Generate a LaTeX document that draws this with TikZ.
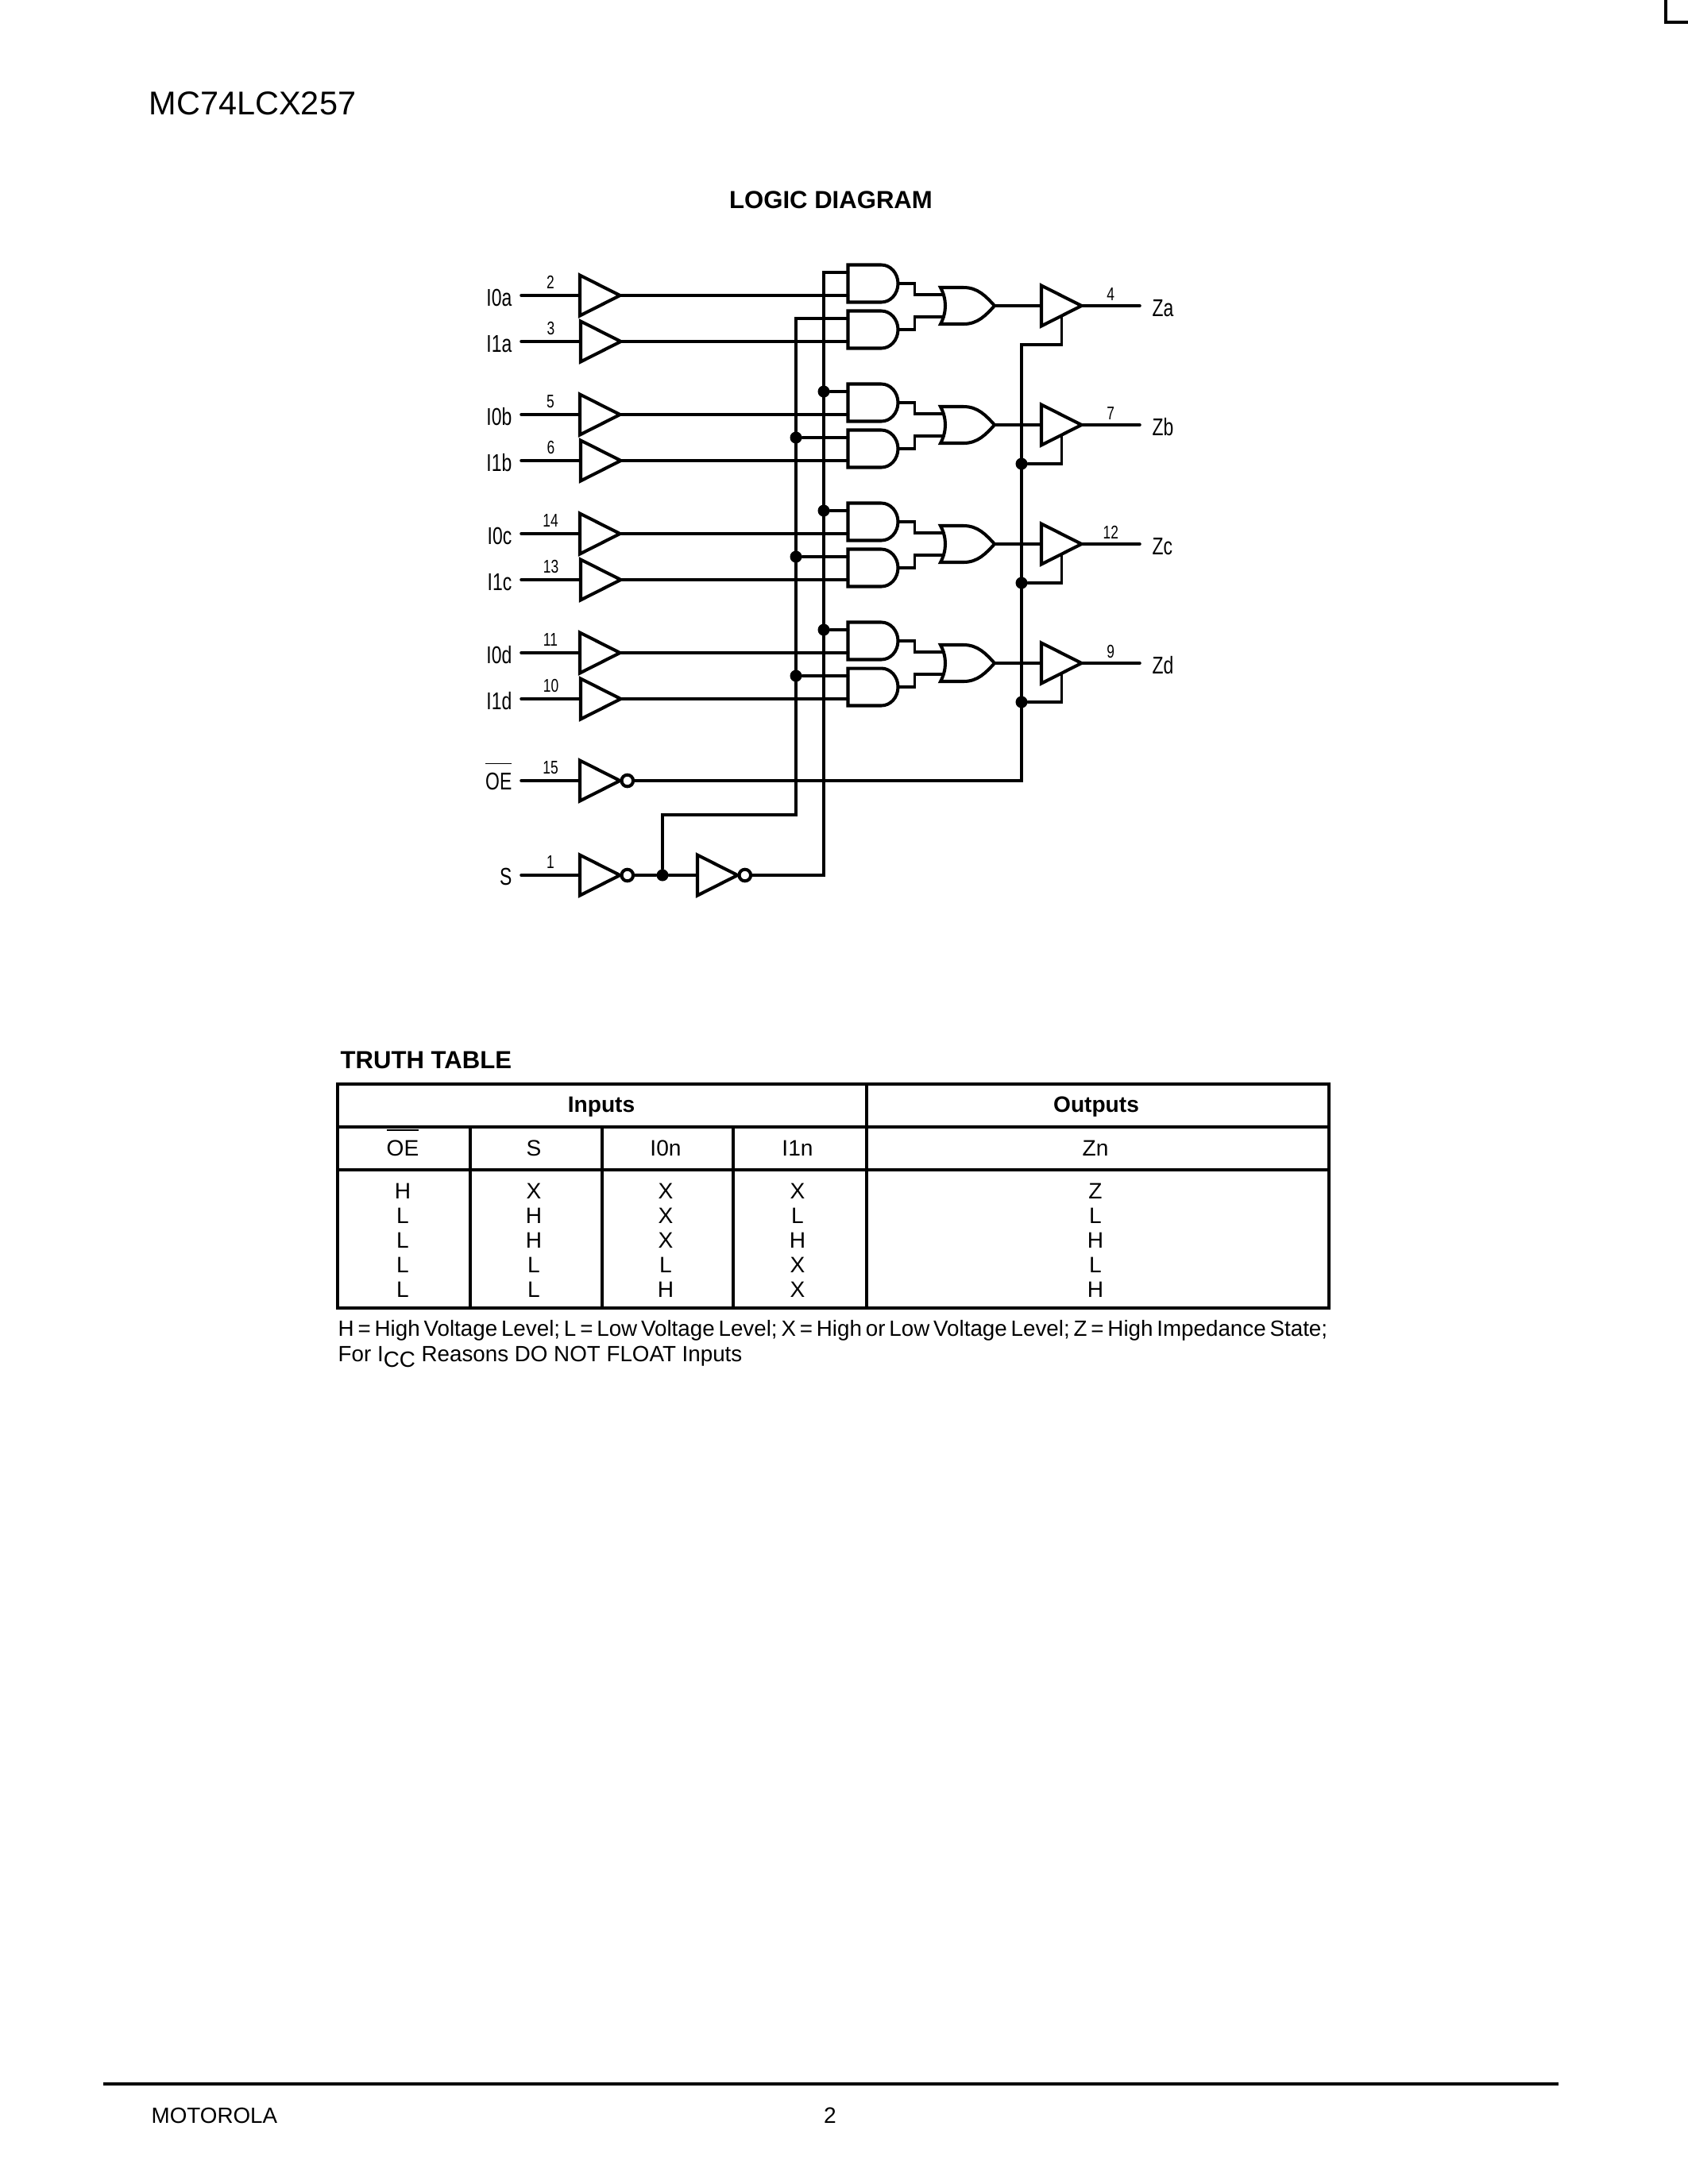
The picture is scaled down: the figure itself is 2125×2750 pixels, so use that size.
\documentclass[tikz,border=0pt]{standalone}
\usepackage{fontspec}
\setmainfont{Liberation Sans}
\newfontfamily\narrowfont[FakeStretch=0.75]{Liberation Sans}
\usetikzlibrary{positioning, shapes.geometric}
\newcommand*{\barred}[3]{\vbox{\hrule height #1 \kern #2 \hbox{#3}}}
\newcommand*{\andoutline}[1]{\draw [outline] (#1.south west) -- (#1.north west) -- ++(4.2mm,0) arc [start angle=90, end angle=-90, x radius=2.1mm, y radius=2.35mm] -- cycle;}
\newcommand*{\oroutline}[1]{\draw [outline] (#1.north west) -- ++(2.9mm,0) .. controls +(1.8mm,0) and +(-1.1mm,1.2mm) .. (#1.east) .. controls +(-1.1mm,-1.2mm) and +(1.8mm,0) .. ++(-3.9mm,-2.3mm) -- (#1.south west) .. controls +(0.8mm,1.5mm) and +(0.8mm,-1.5mm) .. (#1.north west) -- cycle;}
\tikzstyle{wire} = [line width=1pt, line cap=round]
\tikzstyle{outline} = [line width=1.15pt]
\tikzstyle{gate} = [draw, outline, inner sep=0pt, outer sep=0pt]
\tikzstyle{driver} = [gate, isosceles triangle, isosceles triangle stretches, minimum width=5.1mm, minimum height=5.05mm, anchor=lower side]
\tikzstyle{andgate} = [inner sep=0pt, outer sep=0pt, minimum width=6.3mm, minimum height=4.7mm]
\tikzstyle{orgate} = [inner sep=0pt, outer sep=0pt, minimum width=6.8mm, minimum height=4.6mm]
\tikzstyle{bubble} = [gate, circle, minimum size=1.46mm]
\tikzstyle{dot} = [circle, fill, inner sep=0pt, minimum size=1.5mm]
\tikzstyle{signal} = [inner sep=0pt, font=\fontsize{8.7}{10}\narrowfont]
\tikzstyle{number} = [inner sep=0pt, anchor=base, font=\fontsize{6.6}{8}\narrowfont]
\tikzstyle{cell} = [inner sep=0pt, anchor=base, font=\fontsize{8}{10}\selectfont]
\tikzstyle{heading} = [inner sep=0pt, font=\fontsize{8.85}{10}\bfseries]
\tikzstyle{note} = [inner sep=0pt, anchor=base west, font=\fontsize{7.9}{9}\selectfont]

\begin{document}
\begin{tikzpicture}[x=0.1mm, y=-0.1mm]
    \useasboundingbox (0,0) rectangle (2125,2750);

    \node (title) [inner sep=0pt, anchor=base west, font=\fontsize{11.8}{14}\selectfont] at (187,144) {MC74LCX257};
    \node (logic) [heading, anchor=base] at (1046,262) {LOGIC DIAGRAM};
    \draw [outline] (2097,0) -- (2097,28) -- (2125,28);

    % Bit slices.
    \foreach \g/\y/\p/\q/\r in {a/372/2/3/4, b/522/5/6/7, c/672/14/13/12, d/822/11/10/9} {%
        \node (buffer \g 0) [driver] at (730,\y) {};
        \node (buffer \g 1) [driver] at (731,\y+58) {};
        \node (and \g 0) [andgate] at (1099,\y-15) {};
        \node (and \g 1) [andgate] at (1099,\y+43) {};
        \node (or \g) [orgate] at (1218,\y+13) {};
        \node (pin \g 0) [coordinate] at (1188,\y-1) {};
        \node (pin \g 1) [coordinate] at (1188,\y+27) {};
        \node (tri \g) [driver] at (1311,\y+13) {};
        \node (start \g 0) [coordinate, left=7.4mm of buffer \g 0.lower side] {};
        \node (start \g 1) [coordinate, left=7.5mm of buffer \g 1.lower side] {};
        \node (end \g) [coordinate] at (1435,\y+13) {};
        \node (name \g 0) [signal, anchor=base east] at (645,\y+13) {I0\g};
        \node (name \g 1) [signal, anchor=base east] at (645,\y+71) {I1\g};
        \node (name \g) [signal, anchor=base west] at (1450,\y+26) {Z\g};
        \andoutline{and \g 0}
        \andoutline{and \g 1}
        \oroutline{or \g}

        \draw [wire] (start \g 0) -- node [number, yshift=0.9mm] {\p} (buffer \g 0.lower side);
        \draw [wire] (start \g 1) -- node [number, yshift=0.9mm] {\q} (buffer \g 1.lower side);
        \draw [wire] (buffer \g 0.apex) -- (buffer \g 0.apex -| and \g 0.west);
        \draw [wire] (buffer \g 1.apex) -- (buffer \g 1.apex -| and \g 1.west);
        \draw [wire] (and \g 0.east) -- ++(21,0) |- (pin \g 0);
        \draw [wire] (and \g 1.east) -- ++(21,0) |- (pin \g 1);
        \draw [wire] (or \g.east) -- (tri \g.lower side);
        \draw [wire] (tri \g.apex) -- node [number, yshift=0.7mm] {\r} (end \g);
    }

    % Control inputs.
    \node (buffer oe) [driver] at (730,983) {};
    \node (bubble oe) [bubble, right=0.2mm of buffer oe.apex] {};
    \node (start oe) [coordinate, left=7.4mm of buffer oe.lower side] {};
    \node (name oe) [signal, anchor=base east] at (645,994) {\barred{0.3pt}{2.9pt}{OE}};
    \node (buffer s) [driver] at (730,1102) {};
    \node (bubble s) [bubble, right=0.2mm of buffer s.apex] {};
    \node (start s) [coordinate, left=7.4mm of buffer s.lower side] {};
    \node (name s) [signal, anchor=base east] at (645,1114) {S};
    \node (dot s) [dot] at (834,1102) {};
    \node (buffer n) [driver] at (878,1102) {};
    \node (bubble n) [bubble, right=0.2mm of buffer n.apex] {};
    \node (bus 0) [coordinate] at (1002,401) {};
    \node (bus 0 low) [coordinate] at (1002,1026) {};
    \node (bus 1) [coordinate] at (1037,343) {};
    \node (enable) [coordinate] at (1286,434) {};

    % Arrows.
    \draw [wire] (start oe) -- node [number, yshift=0.9mm] {15} (buffer oe.lower side);
    \draw [wire] (start s) -- node [number, yshift=0.9mm] {1} (buffer s.lower side);
    \draw [wire] (bubble s) -- (dot s);
    \draw [wire] (dot s) -- (buffer n.lower side);
    \draw [wire] (dot s) |- (bus 0 low) -- (bus 0) -- (bus 0 -| and a1.west);
    \draw [wire] (bubble n) -| (bus 1) -- (bus 1 -| and a0.west);
    \draw [wire] (bubble oe) -| (enable) -| (tri a.right side);

    \foreach \g/\y in {b/522, c/672, d/822} {%
        \node (dot \g 0) [dot] at (1037,\y-29) {};
        \node (dot \g 1) [dot] at (1002,\y+29) {};
        \node (dot \g) [dot] at (1286,\y+62) {};
        \draw [wire] (dot \g 0) -- (dot \g 0 -| and \g 0.west);
        \draw [wire] (dot \g 1) -- (dot \g 1 -| and \g 1.west);
        \draw [wire] (dot \g) -| (tri \g.right side);
    }

    % Truth table.
    \node (table name) [heading, anchor=base west] at (428,1345) {TRUTH TABLE};
    \draw [line width=1.15pt] (425,1365) rectangle (1673,1647);
    \draw [line width=1.15pt] (425,1419) -- (1673,1419);
    \draw [line width=1.15pt] (425,1473) -- (1673,1473);
    \draw [line width=1pt] (1091,1365) -- (1091,1647);
    \foreach \x in {592, 758, 923} {%
        \draw [line width=1pt] (\x,1419) -- (\x,1647);
    }
    \node (inputs) [cell, font=\fontsize{8}{10}\bfseries] at (757,1400) {Inputs};
    \node (outputs) [cell, font=\fontsize{8}{10}\bfseries] at (1380,1400) {Outputs};
    \node (head oe) [cell] at (507,1455) {\barred{0.85pt}{3.1pt}{OE}};
    \foreach \x/\h in {672/S, 838/I0n, 1004/I1n, 1379/Zn} {%
        \node (head \h) [cell] at (\x,1455) {\h};
    }
    \foreach \r/\a/\b/\c/\d/\e in {1509/H/X/X/X/Z, 1540/L/H/X/L/L, 1571/L/H/X/H/H, 1602/L/L/L/X/L, 1633/L/L/H/X/H} {%
        \node (oe \r) [cell] at (507,\r) {\a};
        \node (s \r) [cell] at (672,\r) {\b};
        \node (i0 \r) [cell] at (838,\r) {\c};
        \node (i1 \r) [cell] at (1004,\r) {\d};
        \node (zn \r) [cell] at (1379,\r) {\e};
    }
    \node (note 1) [note] at (425,1682) {\spaceskip=1.38pt H = High Voltage Level; L = Low Voltage Level; X = High or Low Voltage Level; Z = High Impedance State;};
    \node (note 2) [note] at (425,1714) {For I\raisebox{-2pt}{CC} Reasons DO NOT FLOAT Inputs};

    % Footer.
    \draw [line width=1.4pt] (130,2624) -- (1962,2624);
    \node (maker) [cell, anchor=base west, font=\fontsize{7.9}{9}\selectfont] at (190,2673) {MOTOROLA};
    \node (page) [cell] at (1045,2673) {2};
\end{tikzpicture}
\end{document}
